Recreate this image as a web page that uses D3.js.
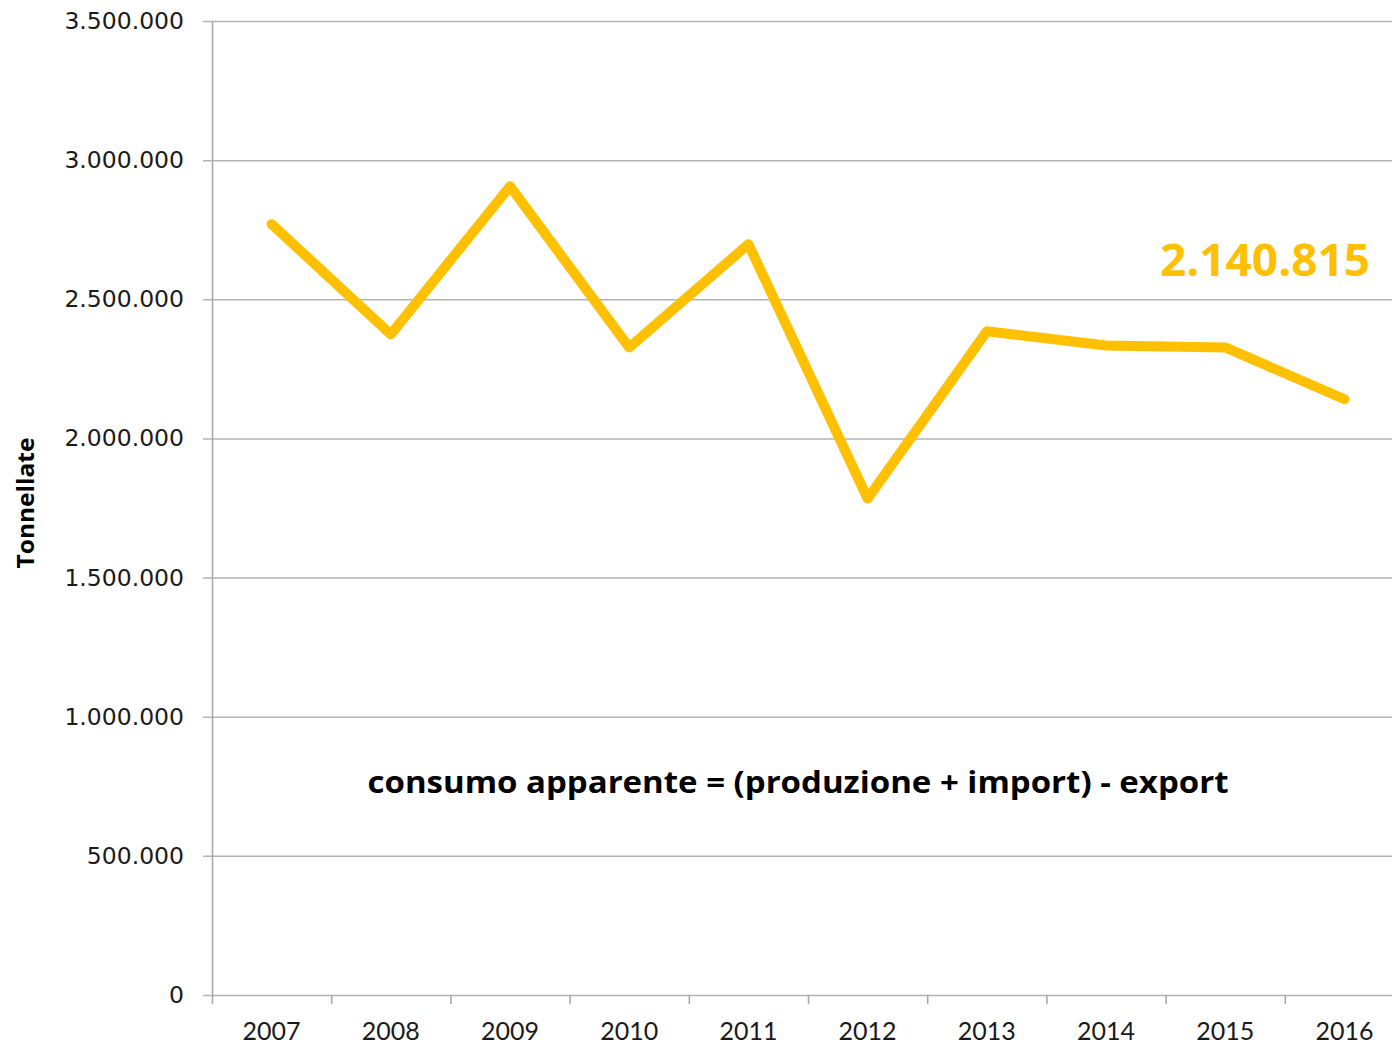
<!DOCTYPE html>
<html><head><meta charset="utf-8">
<script src="https://cdn.jsdelivr.net/npm/d3@7"></script>
<style>body{margin:0;background:#fff}svg{display:block}</style>
</head><body>
<svg id="c" width="1392" height="1046"></svg>
<script>
const years = ["2007","2008","2009","2010","2011","2012","2013","2014","2015","2016"];
const values = [2770000, 2374000, 2906000, 2327000, 2698000, 1784000, 2385000, 2334000, 2327000, 2140815];
const yTicks = [0, 500000, 1000000, 1500000, 2000000, 2500000, 3000000, 3500000];
const lastLabel = "2.140.815";
const note = "consumo apparente = (produzione + import) - export";
const yTitle = "Tonnellate";

const svg = d3.select("#c");
const L = 212, R = 1404, T = 21, B = 995;
const x = d3.scaleBand().domain(years).range([L, R]);
const y = d3.scaleLinear().domain([0, 3500000]).range([B, T]);
const fmt = v => d3.format(",")(v).replace(/,/g, ".");

// gridlines
svg.append("g").selectAll("line").data(yTicks).join("line")
  .attr("x1", 203).attr("x2", 1392)
  .attr("y1", d => y(d) + 0.5).attr("y2", d => y(d) + 0.5)
  .attr("stroke", "#b3b3b3").attr("stroke-width", 1.5);

// y axis line
svg.append("line").attr("x1", L + 0.5).attr("x2", L + 0.5).attr("y1", T).attr("y2", B)
  .attr("stroke", "#a6a6a6").attr("stroke-width", 1.5);

// y tick labels
svg.append("g").selectAll("text").data(yTicks).join("text")
  .attr("x", 184).attr("y", d => y(d) + 8)
  .attr("text-anchor", "end")
  .attr("font-family", "DejaVu Sans").attr("font-size", 23.5).attr("fill", "#1a1a1a")
  .text(d => fmt(d));

// x ticks
const xb = years.map(d => x(d)).concat([R]);
svg.append("g").selectAll("line").data(xb).join("line")
  .attr("x1", d => d + 0.5).attr("x2", d => d + 0.5)
  .attr("y1", B).attr("y2", B + 9)
  .attr("stroke", "#a6a6a6").attr("stroke-width", 1.5);

svg.append("g").selectAll("text").data(years).join("text")
  .attr("x", d => x(d) + x.bandwidth() / 2).attr("y", 1040)
  .attr("text-anchor", "middle")
  .attr("font-family", "Lato").attr("font-size", 25).attr("fill", "#1a1a1a")
  .text(d => d);

// line
const line = d3.line().x((d, i) => x(years[i]) + x.bandwidth() / 2).y(d => y(d));
svg.append("path").datum(values).attr("d", line)
  .attr("fill", "none").attr("stroke", "#FFC000").attr("stroke-width", 10)
  .attr("stroke-linejoin", "round").attr("stroke-linecap", "round");

// last value label
svg.append("text").attr("x", 1370).attr("y", 276).attr("text-anchor", "end")
  .attr("font-family", "Open Sans").attr("font-weight", "bold").attr("font-size", 45)
  .attr("fill", "#FFC000").attr("textLength", 210).attr("lengthAdjust", "spacingAndGlyphs")
  .text(lastLabel);

// note
svg.append("text").attr("x", 798).attr("y", 793).attr("text-anchor", "middle")
  .attr("font-family", "Open Sans").attr("font-weight", "bold").attr("font-size", 31)
  .attr("fill", "#000").attr("textLength", 861).attr("lengthAdjust", "spacingAndGlyphs")
  .text(note);

// y title
svg.append("text").attr("transform", "translate(34,503) rotate(-90)")
  .attr("text-anchor", "middle")
  .attr("font-family", "Open Sans").attr("font-weight", "bold").attr("font-size", 24)
  .attr("fill", "#000").attr("textLength", 131).attr("lengthAdjust", "spacingAndGlyphs")
  .text(yTitle);
</script>
</body></html>
